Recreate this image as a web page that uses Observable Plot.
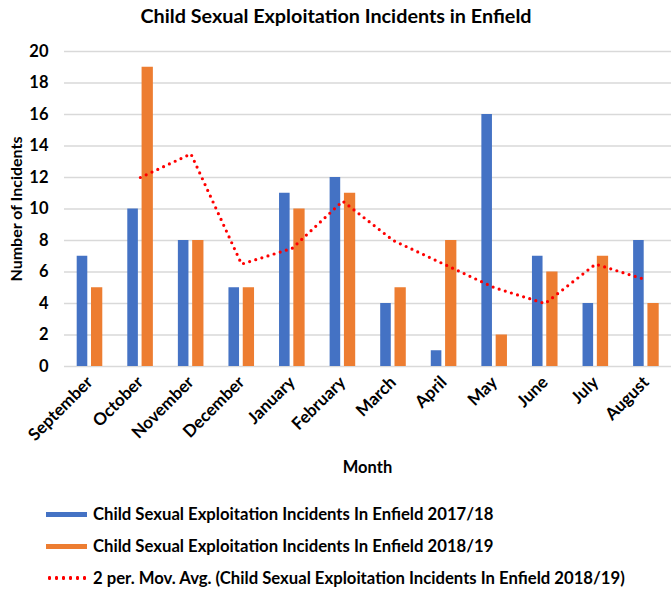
<!DOCTYPE html>
<html>
<head>
<meta charset="utf-8">
<script src="https://cdn.jsdelivr.net/npm/d3@7"></script>
<script src="https://cdn.jsdelivr.net/npm/@observablehq/plot@0.6"></script>
<style>
  html, body { margin: 0; padding: 0; background: #fff; }
  #wrap { position: relative; width: 672px; height: 589px; font-family: Lato, "Open Sans", sans-serif; color: #000; }
  #title { position: absolute; left: 0; top: 0; width: 672px; height: 30px; line-height: 30px; text-align: center; font-weight: bold; font-size: 19.8px; }
  #chart { position: absolute; left: 0; top: 32px; }
  #ytitle { position: absolute; left: 15px; top: 209px; width: 0; height: 0; }
  #ytitle span { position: absolute; left: 0; top: 0; transform: translate(-50%, -50%) rotate(-90deg); white-space: nowrap; font-weight: bold; font-size: 16px; }
  #xtitle { position: absolute; left: 64px; width: 607px; top: 457px; text-align: center; font-weight: bold; font-size: 16.5px; }
  #legend { position: absolute; left: 46px; top: 498px; font-weight: bold; font-size: 16.7px; }
  .item { height: 32px; display: flex; align-items: center; }
  .sw { width: 41px; height: 5px; margin-right: 6px; }
  .dots { width: 41px; height: 4px; margin-right: 6px; }
</style>
</head>
<body>
<div id="wrap">
  <div id="title">Child Sexual Exploitation Incidents in Enfield</div>
  <div id="chart"></div>
  <div id="ytitle"><span></span></div>
  <div id="xtitle"></div>
  <div id="legend"></div>
</div>
<script>
const months = ["September","October","November","December","January","February","March","April","May","June","July","August"];
const incidents2017_18 = [7,10,8,5,11,12,4,1,16,7,4,8];
const incidents2018_19 = [5,19,8,5,10,11,5,8,2,6,7,4];
const movingAverage2018_19 = [null,12,13.5,6.5,7.5,10.5,8,6.5,5,4,6.5,5.5];
const yTicks = [0,2,4,6,8,10,12,14,16,18,20];
const seriesNames = [
  "Child Sexual Exploitation Incidents In Enfield 2017/18",
  "Child Sexual Exploitation Incidents In Enfield 2018/19",
  "2 per. Mov. Avg. (Child Sexual Exploitation Incidents In Enfield 2018/19)"
];
const colors = ["#4472C4", "#ED7D31", "#FF0000"];
const yTitle = "Number of Incidents";
const xTitle = "Month";

document.querySelector("#ytitle span").textContent = yTitle;
document.getElementById("xtitle").textContent = xTitle;

const rowsA = months.map((m, i) => ({month: m, value: incidents2017_18[i]}));
const rowsB = months.map((m, i) => ({month: m, value: incidents2018_19[i]}));
const rowsAvg = months.map((m, i) => ({month: m, value: movingAverage2018_19[i]})).filter(d => d.value != null);

const chart = Plot.plot({
  width: 672,
  height: 452,
  marginLeft: 64,
  marginRight: 1,
  marginTop: 19,
  marginBottom: 118,
  style: {fontFamily: "Lato, 'Open Sans', sans-serif", fontSize: "16px", fontWeight: "bold", color: "#000", background: "#fff"},
  x: {type: "band", domain: months, padding: 0, round: false},
  y: {domain: [0, 20]},
  marks: [
    Plot.gridY(yTicks, {stroke: "#d9d9d9", strokeOpacity: 1, strokeWidth: 1.3}),
    Plot.barY(rowsA, {x: "month", y: "value", fill: colors[0], insetLeft: 12.7, insetRight: 27.3}),
    Plot.barY(rowsB, {x: "month", y: "value", fill: colors[1], insetLeft: 27, insetRight: 12.3}),
    Plot.line(rowsAvg, {x: "month", y: "value", stroke: colors[2], strokeWidth: 3.2, strokeDasharray: "0 6.4", strokeLinecap: "round"}),
    Plot.axisY(yTicks, {tickSize: 0, tickPadding: 16, label: null, fontSize: 16.5, fontWeight: "bold"}),
    Plot.axisX({tickSize: 0, tickRotate: -45, tickPadding: 13, label: null, fontSize: 17, fontWeight: "bold"})
  ]
});
document.getElementById("chart").appendChild(chart);

const legend = document.getElementById("legend");
seriesNames.forEach((name, i) => {
  const item = document.createElement("div");
  item.className = "item";
  const sw = document.createElement("div");
  if (i < 2) {
    sw.className = "sw";
    sw.style.background = colors[i];
  } else {
    sw.className = "dots";
    sw.style.backgroundImage = `radial-gradient(circle, ${colors[i]} 1.7px, transparent 2px)`;
    sw.style.backgroundSize = "7px 4px";
    sw.style.backgroundRepeat = "repeat-x";
  }
  const label = document.createElement("span");
  label.textContent = name;
  item.appendChild(sw);
  item.appendChild(label);
  legend.appendChild(item);
});
</script>
</body>
</html>
